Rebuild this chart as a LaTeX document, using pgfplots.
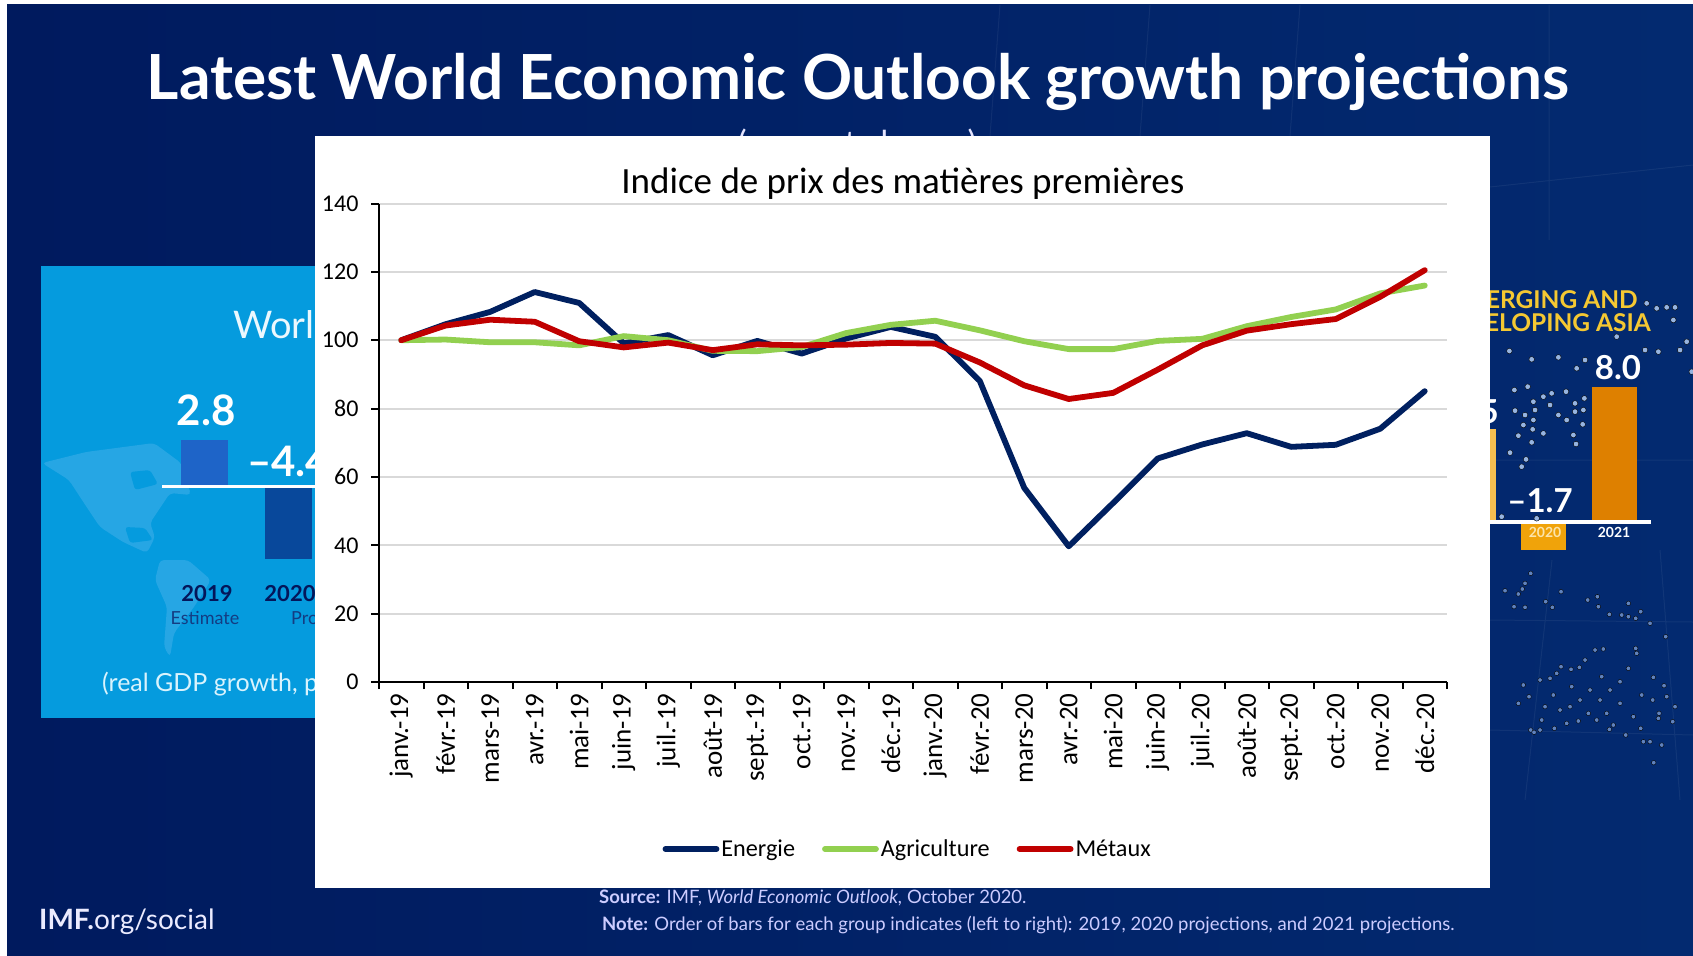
\documentclass[border=0pt]{standalone}
\usepackage{fontspec}
\setmainfont{Carlito}
\newfontfamily\lato{Lato}
\usepackage{pgfplots}
\pgfplotsset{compat=1.18}
\definecolor{navy}{HTML}{002060}
\definecolor{leaf}{HTML}{92D050}
\definecolor{brick}{HTML}{C00000}
\definecolor{gridc}{HTML}{D9D9D9}
\definecolor{panelblue}{RGB}{5,155,222}
\definecolor{mapblue}{RGB}{38,166,228}
\newcommand{\fs}[1]{\fontsize{#1}{#1}\selectfont}
\begin{document}
\begin{tikzpicture}[x=1pt,y=1pt]
\useasboundingbox (0,0) rectangle (1693,-955);
\shade[left color={rgb,255:red,0;green,26;blue,94}, middle color={rgb,255:red,6;green,40;blue,104}, right color={rgb,255:red,3;green,42;blue,112}] (7,-5) rectangle (1693,-955);
% faint globe lines
\draw[white,opacity=0.06,line width=1pt] (1490,-187) -- (1693,-165) (1490,-460) -- (1693,-460) (1490,-620) -- (1693,-622) (1490,-730) -- (1693,-735) (1549,-5) -- (1549,-240) (1552,-560) -- (1525,-800) (1660,-550) -- (1680,-800) (1000,-5) -- (990,-136) (1150,-5) -- (1140,-136) (1300,-5) -- (1290,-136);
% title
\node[inner sep=0pt,text=white,font=\lato\bfseries\fs{62.2}] at (858,-82) {Latest World Economic Outlook growth projections};
\node[inner sep=0pt,text=white!90!blue,font=\lato\fs{33}] at (857,-145) {(percent change)};
% left blue panel
\fill[panelblue] (41,-266) rectangle (330,-718);
\fill[mapblue,rounded corners=4pt] (42,-463) -- (86,-452) -- (154,-443) -- (181,-463) -- (191,-495) -- (170,-493) -- (150,-523) -- (155,-537) -- (147,-553) -- (123,-542) -- (100,-527) -- (82,-500) -- (69,-480) -- cycle;
\fill[mapblue,rounded corners=4pt] (160,-560) -- (188,-560) -- (211,-580) -- (194,-607) -- (174,-633) -- (170,-657) -- (164,-647) -- (167,-607) -- (155,-580) -- cycle;
\fill[panelblue,rounded corners=3pt] (130,-472) -- (150,-470) -- (158,-484) -- (135,-490) -- cycle;
\fill[panelblue,rounded corners=3pt] (125,-527) -- (145,-528) -- (153,-540) -- (130,-543) -- cycle;
\node[inner sep=0pt,anchor=west,text=white!92!cyan,font=\lato\fs{38}] at (233,-325) {Worl};
\node[inner sep=0pt,text=white,font=\lato\bfseries\fs{42}] at (206,-410) {2.8};
\node[inner sep=0pt,anchor=west,text=white,font=\lato\bfseries\fs{42}] at (247,-461) {–4.4};
\node[inner sep=0pt,text={rgb,255:red,4;green,22;blue,90},font=\lato\bfseries\fs{22}] at (207,-594) {2019};
\node[inner sep=0pt,text={rgb,255:red,4;green,22;blue,90},font=\lato\bfseries\fs{22}] at (290,-594) {2020};
\node[inner sep=0pt,text={rgb,255:red,20;green,60;blue,130},font=\lato\fs{18}] at (205,-618) {Estimate};
\node[inner sep=0pt,anchor=west,text={rgb,255:red,20;green,60;blue,130},font=\lato\fs{18}] at (291,-618) {Pro};
\node[inner sep=0pt,anchor=west,text=white!85!cyan,font=\lato\fs{25}] at (102,-684) {(real GDP growth, p};
% left bars, values in percent
\begin{axis}[name=leftbars,hide axis,scale only axis,width=169pt,height=132.8pt,at={(162pt,-569pt)},anchor=south west,xmin=-0.5,xmax=1.5,ymin=-5,ymax=3]
\addplot[ybar,bar shift=0pt,bar width=47pt,fill={rgb,255:red,30;green,100;blue,200},draw=none] coordinates {(0,2.8)};
\addplot[ybar,bar shift=0pt,bar width=47pt,fill={rgb,255:red,8;green,72;blue,155},draw=none] coordinates {(1,-4.4)};
\end{axis}
\fill[white] (162,-484.5) rectangle (330,-488);
% right bars, values in percent
\begin{axis}[hide axis,scale only axis,width=211.5pt,height=184.8pt,at={(1438pt,-554.6pt)},anchor=south west,xmin=-0.5,xmax=2.5,ymin=-2,ymax=9]
\addplot[ybar,bar shift=0pt,bar width=45pt,fill={rgb,255:red,245;green,190;blue,80},draw=none] coordinates {(0,5.5)};
\addplot[ybar,bar shift=0pt,bar width=45pt,fill={rgb,255:red,240;green,163;blue,10},draw=none] coordinates {(1,-1.7)};
\addplot[ybar,bar shift=0pt,bar width=45pt,fill={rgb,255:red,222;green,128;blue,0},draw=none] coordinates {(2,8.0)};
\end{axis}
\fill[white] (1440,-520) rectangle (1651,-524);
% right dots
\begin{axis}[hide axis,scale only axis,width=1693pt,height=955pt,at={(0pt,-955pt)},anchor=south west,xmin=0,xmax=1693,ymin=0,ymax=955,y dir=reverse,clip=false]
\addplot[only marks,mark=*,mark size=2.8pt,mark options={draw=none,fill={rgb,255:red,150;green,180;blue,225}}] table[x expr=1490+\thisrowno{0}/3,y expr=270+\thisrowno{1}/3,header=false] {
58 243
125 268
205 262
260 295
285 270
465 240
505 245
590 215
550 150
530 112
500 115
470 100
555 112
570 240
160 380
113 350
73 360
185 370
228 365
283 385
130 395
75 422
135 420
180 405
205 435
255 400
255 425
280 420
105 435
100 465
130 450
160 490
128 478
85 497
230 450
278 463
250 495
125 517
60 548
108 568
258 522
95 590
35 740
140 745
380 200
605 305
};
\addplot[only marks,mark=*,mark size=2.3pt,mark options={draw=none,fill={rgb,255:red,95;green,130;blue,190}}] table[x expr=1490+\thisrowno{0}/3,y expr=550+\thisrowno{1}/3,header=false] {
45 122
72 170
85 132
97 117
105 100
122 70
105 172
167 155
187 172
213 125
293 150
322 140
325 170
358 193
395 195
415 160
415 200
437 205
452 185
480 220
527 260
122 540
132 547
117 440
100 405
85 460
150 390
165 470
190 435
213 350
243 358
268 352
315 300
340 297
285 330
180 385
200 370
245 410
295 490
265 513
230 520
193 535
150 540
350 490
370 525
358 538
407 555
452 535
460 575
480 575
515 585
507 490
505 505
455 435
488 450
530 440
555 470
548 515
522 407
490 382
437 295
440 310
415 355
390 395
335 380
300 420
330 450
360 420
270 450
390 460
430 500
491 638
210 480
240 470
155 510
320 510
};
\end{axis}
\node[inner sep=0pt,anchor=east,text={rgb,255:red,245;green,200;blue,50},font=\lato\bfseries\fs{24.5}] at (1638,-300) {EMERGING AND};
\node[inner sep=0pt,anchor=east,text={rgb,255:red,245;green,200;blue,50},font=\lato\bfseries\fs{24.5}] at (1651,-323) {DEVELOPING ASIA};
\node[inner sep=0pt,text=white,font=\lato\bfseries\fs{33}] at (1618,-368) {8.0};
\node[inner sep=0pt,text=white,font=\lato\bfseries\fs{33}] at (1540,-501) {–1.7};
\node[inner sep=0pt,anchor=east,text=white,font=\lato\bfseries\fs{33}] at (1499,-412) {5.5};
\node[inner sep=0pt,text={rgb,255:red,252;green,228;blue,170},font=\lato\bfseries\fs{14}] at (1545,-532) {2020};
\node[inner sep=0pt,text=white,font=\lato\bfseries\fs{14}] at (1614,-532) {2021};
% footer
\node[inner sep=0pt,anchor=west,text=white!92!blue,font=\lato\fs{28}] at (39,-922) {\textbf{IMF.}org/social};
\node[inner sep=0pt,anchor=west,text=white!80!blue,font=\lato\fs{18.5}] at (599,-898) {\textbf{Source:} IMF, \textit{World Economic Outlook,} October 2020.};
\node[inner sep=0pt,anchor=west,text=white!80!blue,font=\lato\fs{18.5}] at (602,-925) {\textbf{Note:} Order of bars for each group indicates (left to right): 2019, 2020 projections, and 2021 projections.};
% white chart panel
\fill[white] (315,-136) rectangle (1490,-888);
\begin{axis}[
  scale only axis,width=1068pt,height=478.5pt,at={(379pt,-682pt)},anchor=south west,
  xmin=0,xmax=24,ymin=0,ymax=140,
  axis lines=left,axis line style={-,black,line width=2.4pt},
  ytick={0,20,...,140},ymajorgrids,grid style={gridc,line width=2pt},
  xtick={0.5,1.5,...,23.5},
  xticklabels={janv.-19,févr.-19,mars-19,avr.-19,mai-19,juin-19,juil.-19,août-19,sept.-19,oct.-19,nov.-19,déc.-19,janv.-20,févr.-20,mars-20,avr.-20,mai-20,juin-20,juil.-20,août-20,sept.-20,oct.-20,nov.-20,déc.-20},
  minor xtick={0,1,...,24},
  tick align=outside,major tick length=8pt,minor tick length=7pt,
  tick style={black,line width=2pt},
  major x tick style={draw=none},
  /pgf/number format/assume math mode=true,
  yticklabel style={font=\fs{24},xshift=-9pt},
  xticklabel style={font=\fs{27},rotate=90,anchor=east},
  title={Indice de prix des matières premières},
  title style={font=\fs{37},at={(0.4905,1)},anchor=south,yshift=-6pt,inner sep=4pt},
  legend columns=3,
  legend cell align=left,
  legend style={at={(0.495,-0.349)},anchor=center,draw=none,fill=none,font=\fs{24.2},inner sep=0pt,
    /tikz/every even column/.append style={column sep=25pt}},
  legend image code/.code={\draw[#1,line cap=round] (2.5pt,0pt) -- (53.5pt,0pt);},
]
\addplot[navy,line width=5.8pt,line cap=round,line join=round,mark=none] table[x=x,y=y] {
x y
0.5 100
1.5 104.7
2.5 108.3
3.5 114.1
4.5 110.9
5.5 99.1
6.5 101.5
7.5 95.6
8.5 99.8
9.5 96.1
10.5 100.5
11.5 103.9
12.5 101
13.5 88.1
14.5 56.8
15.5 39.7
16.5 52.4
17.5 65.4
18.5 69.5
19.5 72.8
20.5 68.8
21.5 69.4
22.5 74.1
23.5 85.1
};
\addlegendentry{Energie}
\addplot[leaf,line width=5.8pt,line cap=round,line join=round,mark=none] table[x=x,y=y] {
x y
0.5 100
1.5 100.2
2.5 99.4
3.5 99.4
4.5 98.5
5.5 101.2
6.5 100
7.5 96.9
8.5 96.8
9.5 98
10.5 102.1
11.5 104.5
12.5 105.7
13.5 102.9
14.5 99.7
15.5 97.4
16.5 97.4
17.5 99.8
18.5 100.4
19.5 104.1
20.5 106.8
21.5 109
22.5 113.7
23.5 116
};
\addlegendentry{Agriculture}
\addplot[brick,line width=5.8pt,line cap=round,line join=round,mark=none] table[x=x,y=y] {
x y
0.5 100
1.5 104.3
2.5 106
3.5 105.4
4.5 99.7
5.5 97.9
6.5 99.3
7.5 97.1
8.5 98.8
9.5 98.5
10.5 98.7
11.5 99.2
12.5 99
13.5 93.5
14.5 86.8
15.5 82.8
16.5 84.6
17.5 91.4
18.5 98.5
19.5 102.8
20.5 104.7
21.5 106.2
22.5 112.7
23.5 120.5
};
\addlegendentry{Métaux}
\end{axis}
\end{tikzpicture}
\end{document}
